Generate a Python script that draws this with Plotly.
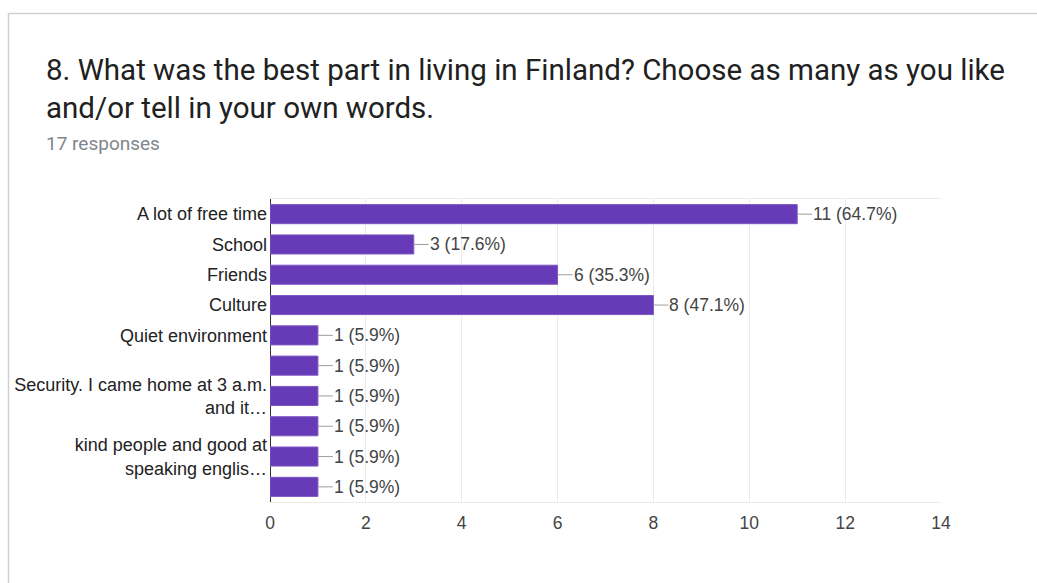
import plotly.graph_objects as go

# Survey answers, top to bottom
labels = [
    "A lot of free time",
    "School",
    "Friends",
    "Culture",
    "Quiet environment",
    "",
    "Security. I came home at 3 a.m.<br>and it…",
    "",
    "kind people and good at<br>speaking englis…",
    "",
]
counts = [11, 3, 6, 8, 1, 1, 1, 1, 1, 1]
total_responses = 17
x_ticks = [0, 2, 4, 6, 8, 10, 12, 14]

W, H = 1037, 583
L, R, T, B = 270, 96, 199, 81
PW, PH = W - L - R, H - T - B


def px(x):
    return (x - L) / PW


def py(y):
    return (H - B - y) / PH


rows = list(range(len(labels)))
chart_font = "Liberation Sans, Arial"

fig = go.Figure()
fig.add_trace(go.Bar(
    x=counts,
    y=rows,
    orientation="h",
    marker=dict(color="#673ab7", line=dict(color="#7e57c2", width=1)),
    width=0.63,
    hoverinfo="skip",
))

for i, c in zip(rows, counts):
    pct = round(100 * c / total_responses, 1)
    fig.add_annotation(
        x=c, y=i, xref="x", yref="y",
        text=f"{c} ({pct}%)",
        showarrow=True, arrowhead=0, arrowwidth=1, arrowcolor="#9e9e9e",
        ax=15, ay=0, xanchor="left", standoff=0, startstandoff=0,
        borderpad=0,
        font=dict(family=chart_font, size=17.5, color="#444444"),
    )

# Card outline
fig.add_shape(type="line", xref="paper", yref="paper",
              x0=px(8), x1=px(1040), y0=py(13.5), y1=py(13.5),
              line=dict(color="#d0d0d0", width=1.5))
fig.add_shape(type="line", xref="paper", yref="paper",
              x0=px(8.5), x1=px(8.5), y0=py(13), y1=py(590),
              line=dict(color="#d0d0d0", width=1.5))

title_font = dict(family="Roboto, Liberation Sans", size=29.5, color="#212121")
fig.add_annotation(x=px(44), y=py(70), xref="paper", yref="paper",
                   text="8. What was the best part in living in Finland? Choose as many as you like",
                   showarrow=False, xanchor="left", yanchor="middle", font=title_font)
fig.add_annotation(x=px(44), y=py(108), xref="paper", yref="paper",
                   text="and/or tell in your own words.",
                   showarrow=False, xanchor="left", yanchor="middle", font=title_font)
fig.add_annotation(x=px(44), y=py(144), xref="paper", yref="paper",
                   text="17 responses",
                   showarrow=False, xanchor="left", yanchor="middle",
                   font=dict(family="Roboto, Liberation Sans", size=19, color="#80868b"))

fig.update_layout(
    width=W, height=H,
    margin=dict(l=L, r=R, t=T, b=B, pad=0),
    paper_bgcolor="white", plot_bgcolor="white",
    showlegend=False,
    bargap=0.37,
    font=dict(family=chart_font, size=17.5, color="#222222"),
    xaxis=dict(
        range=[0, 14], tickvals=x_ticks,
        showgrid=True, gridcolor="#ebebeb", gridwidth=1,
        zeroline=True, zerolinecolor="#333333", zerolinewidth=1,
        showline=True, linecolor="#ebebeb", mirror=True,
        tickfont=dict(size=17.5, color="#444444"),
        ticks="", ticklabelstandoff=5,
        fixedrange=True,
    ),
    yaxis=dict(
        range=[len(labels) - 0.5, -0.5],
        tickvals=rows, ticktext=labels,
        showgrid=False, zeroline=False, ticks="",
        tickfont=dict(size=18, color="#222222"),
        ticklabelstandoff=2,
        fixedrange=True,
    ),
)

fig.write_html("out.html")
